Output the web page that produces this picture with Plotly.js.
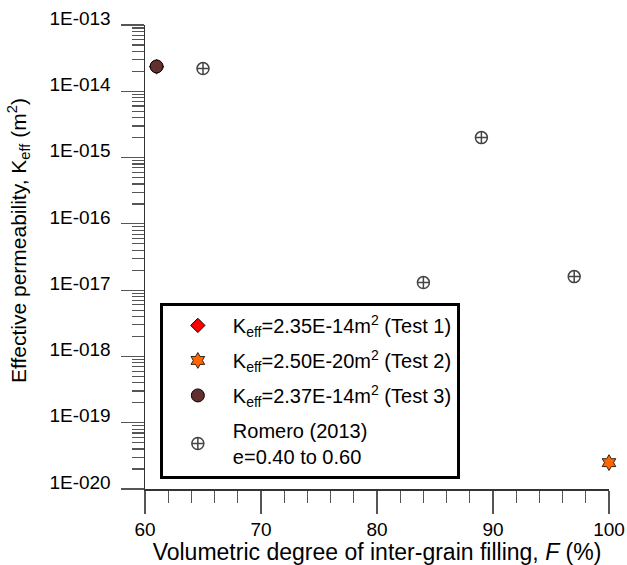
<!DOCTYPE html>
<html><head><meta charset="utf-8">
<script src="https://cdn.plot.ly/plotly-3.0.1.min.js"></script>
<style>html,body{margin:0;padding:0;background:#fff}#chart{width:627px;height:565px}</style>
</head><body><div id="chart"></div>
<script>
// ---- data ----
const test1X = [61];   const test1Y = [2.35e-14];
const test2X = [100];  const test2Y = [2.50e-20];
const test3X = [61];   const test3Y = [2.37e-14];
const romeroX = [65, 89, 84, 97];
const romeroY = [2.2e-14, 2.0e-15, 1.3e-17, 1.6e-17];
const seriesNames = [
  'K<sub>eff</sub>=2.35E-14m<sup>2</sup> (Test 1)',
  'K<sub>eff</sub>=2.50E-20m<sup>2</sup> (Test 2)',
  'K<sub>eff</sub>=2.37E-14m<sup>2</sup> (Test 3)',
  'Romero (2013)<br>e=0.40 to 0.60'
];
const yTickVals = [1e-20, 1e-19, 1e-18, 1e-17, 1e-16, 1e-15, 1e-14, 1e-13];
const yTickText = ['1E-020', '1E-019', '1E-018', '1E-017', '1E-016', '1E-015', '1E-014', '1E-013'];
const yDecades = [1e-20, 1e-19, 1e-18, 1e-17, 1e-16, 1e-15, 1e-14];
const minorMultipliers = [2, 3, 4, 5, 6, 7, 8, 9];
const xTickVals = [60, 70, 80, 90, 100];
const xTickText = ['60', '70', '80', '90', '100'];
const xTitle = 'Volumetric degree of inter-grain filling, <i>F</i> (%)';
const yTitle = 'Effective permeability, K<sub>eff</sub> (m<sup>2</sup>)';

const yMinorVals = [];
yDecades.forEach(d => minorMultipliers.forEach(m => yMinorVals.push(m * d)));

const FONT = 'Arial, "Liberation Sans", sans-serif';

const traces = [
  {x: test1X, y: test1Y, name: seriesNames[0], legendgroup: 'g1', mode: 'markers', type: 'scatter',
   marker: {symbol: 'diamond', size: 11, color: '#ff0000', line: {color: '#000', width: 1}}, cliponaxis: false},
  {x: test2X, y: test2Y, name: seriesNames[1], legendgroup: 'g2', mode: 'markers', type: 'scatter',
   marker: {symbol: 'hexagram', size: 12, color: '#ff6600', line: {color: '#000', width: 0.8}}, cliponaxis: false},
  {x: test3X, y: test3Y, name: seriesNames[2], legendgroup: 'g3', mode: 'markers', type: 'scatter',
   marker: {symbol: 'circle', size: 13, color: '#633030', line: {color: '#000', width: 1}}, cliponaxis: false},
  {x: romeroX, y: romeroY, name: seriesNames[3], legendgroup: 'g4', mode: 'markers', type: 'scatter',
   marker: {symbol: 'circle-cross-open', size: 12, color: '#444', line: {color: '#444', width: 1.5}}, cliponaxis: false}
];

const layout = {
  width: 627, height: 565,
  margin: {l: 145, r: 18, t: 25, b: 76, pad: 0},
  paper_bgcolor: '#fff', plot_bgcolor: '#fff',
  font: {family: FONT, size: 19, color: '#000'},
  showlegend: true,
  legend: {
    x: 0.032, y: 0.401, xanchor: 'left', yanchor: 'top',
    bgcolor: '#fff', bordercolor: '#000', borderwidth: 3,
    font: {family: FONT, size: 20, color: '#000'},
    traceorder: 'grouped', tracegroupgap: 6, itemwidth: 60
  },
  xaxis: {
    range: [60, 100], type: 'linear',
    tickmode: 'array', tickvals: xTickVals, ticktext: xTickText,
    ticks: 'outside', ticklen: 23, tickwidth: 1.2, tickcolor: '#555',
    minor: {dtick: 2, tick0: 60, ticks: 'outside', ticklen: 12, tickwidth: 1.2, tickcolor: '#555', showgrid: false},
    showline: true, linecolor: '#333', linewidth: 1.5,
    showgrid: false, zeroline: false,
    tickfont: {family: FONT, size: 19, color: '#000'},
    title: {text: xTitle, font: {family: FONT, size: 23, color: '#000'}, standoff: 4}
  },
  yaxis: {
    type: 'log', range: [-20, -13],
    tickmode: 'array', tickvals: yTickVals, ticktext: yTickText,
    ticks: 'outside', ticklen: 23, tickwidth: 1.2, tickcolor: '#555',
    minor: {tickmode: 'array', tickvals: yMinorVals, ticks: 'outside', ticklen: 12, tickwidth: 1.2, tickcolor: '#555', showgrid: false},
    showline: true, linecolor: '#333', linewidth: 1.5,
    showgrid: false, zeroline: false,
    ticklabelstandoff: 6, ticklabelshift: -7,
    tickfont: {family: FONT, size: 19, color: '#000'}
  },
  annotations: [{
    text: yTitle, textangle: -90, showarrow: false,
    xref: 'paper', yref: 'paper',
    x: (18 - 145) / 464, y: (489 - 241) / 464,
    xanchor: 'center', yanchor: 'middle',
    font: {family: FONT, size: 21, color: '#000'}
  }]
};

Plotly.newPlot('chart', traces, layout, {displayModeBar: false, staticPlot: true});
</script>
</body></html>
